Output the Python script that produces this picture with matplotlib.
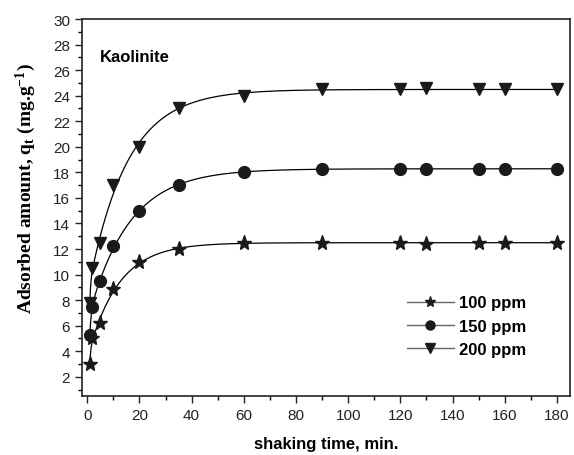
import numpy as np
import matplotlib
matplotlib.use("Agg")
import matplotlib.pyplot as plt
from matplotlib.ticker import MultipleLocator

t = [1, 2, 5, 10, 20, 35, 60, 90, 120, 130, 150, 160, 180]
q100 = [3.0, 5.0, 6.2, 8.9, 11.0, 12.0, 12.5, 12.5, 12.5, 12.4, 12.45, 12.5, 12.5]
q150 = [5.3, 7.5, 9.5, 12.2, 15.0, 17.0, 18.0, 18.3, 18.3, 18.25, 18.3, 18.25, 18.25]
q200 = [7.8, 10.5, 12.5, 17.0, 20.0, 23.0, 24.0, 24.5, 24.5, 24.6, 24.55, 24.5, 24.5]
labels = ["100 ppm", "150 ppm", "200 ppm"]
markers = ["*", "o", "v"]

plt.rcParams["font.family"] = ["Liberation Sans", "DejaVu Sans"]

fig = plt.figure(figsize=(5.74, 4.56), dpi=100)
ax = fig.add_axes([82/574, 1-397/456, (570-82)/574, (397-20)/456])

tt = np.array(t, float)
tf = np.linspace(1, 180, 800)

def fit(q):
    # double-exponential kinetic fit by least squares
    q = np.array(q, float)
    best = None
    ks = np.geomspace(0.01, 3.0, 120)
    for i, k1 in enumerate(ks):
        for k2 in ks[i+1:]:
            A = np.column_stack([np.ones_like(tt), np.exp(-k1*tt), np.exp(-k2*tt)])
            coef, *_ = np.linalg.lstsq(A, q, rcond=None)
            r = np.sum((A @ coef - q)**2)
            if best is None or r < best[0]:
                best = (r, k1, k2, coef)
    _, k1, k2, c = best
    return c[0] + c[1]*np.exp(-k1*tf) + c[2]*np.exp(-k2*tf)

handles = []
for q, m, lab in zip([q100, q150, q200], markers, labels):
    ms = 11 if m == "*" else 8.5
    ax.plot(tf, fit(q), color="black", lw=0.9)
    ax.plot(t, q, linestyle="none", marker=m, color="#1a1a1a", ms=ms)
    h, = ax.plot([], [], color="#666666", lw=1.0, marker=m, mfc="#1a1a1a",
                 mec="#1a1a1a", ms=(8 if m == "*" else 6.5), label=lab)
    handles.append(h)

ax.set_xlim(-2, 185)
ax.set_ylim(0.5, 30)
ax.xaxis.set_major_locator(MultipleLocator(20))
ax.xaxis.set_minor_locator(MultipleLocator(10))
ax.yaxis.set_major_locator(MultipleLocator(2))
ax.yaxis.set_minor_locator(MultipleLocator(1))
ax.tick_params(which="major", direction="out", length=5, width=1, labelsize=11, colors="#222222")
ax.tick_params(which="minor", direction="out", length=3, width=1)
for s in ax.spines.values():
    s.set_linewidth(1.2)
    s.set_color("#222222")

ax.set_xlabel("shaking time, min.", fontsize=12, fontweight="bold", labelpad=10)
ax.set_ylabel(r"Adsorbed amount, q$\mathregular{_t}$ (mg.g$\mathregular{^{-1}}$)",
              fontsize=14, fontweight="bold", family=["Liberation Serif"])
ax.yaxis.set_label_coords(-0.09, 0.554)
ax.text(5, 26.7, "Kaolinite", fontsize=12, fontweight="bold")

leg = ax.legend(handles=handles, loc="center left", bbox_to_anchor=(0.635, 0.185),
                frameon=False, handlelength=2.8, handletextpad=0.3, labelspacing=0.5,
                prop={"weight": "bold", "size": 12})

fig.savefig("out.png", dpi=100)
